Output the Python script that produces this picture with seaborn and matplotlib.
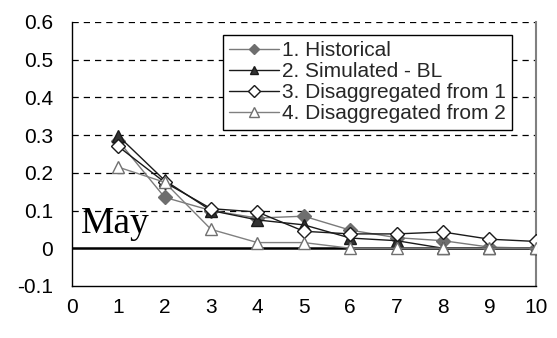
import matplotlib
matplotlib.use("Agg")
import matplotlib.pyplot as plt
import seaborn as sns
import pandas as pd

months = [1, 2, 3, 4, 5, 6, 7, 8, 9, 10]
historical = [0.285, 0.135, 0.100, 0.080, 0.085, 0.048, 0.028, 0.020, 0.003, 0.0]
simulated_bl = [0.298, 0.180, 0.100, 0.075, 0.062, 0.027, 0.020, 0.0, 0.0, 0.0]
disagg_from_1 = [0.270, 0.175, 0.105, 0.096, 0.045, 0.038, 0.038, 0.043, 0.024, 0.018]
disagg_from_2 = [0.215, 0.175, 0.050, 0.015, 0.015, 0.0, 0.0, 0.0, 0.0, 0.0]

labels = ["1. Historical", "2. Simulated - BL",
          "3. Disaggregated from 1", "4. Disaggregated from 2"]
x_ticks = [0, 1, 2, 3, 4, 5, 6, 7, 8, 9, 10]
y_ticks = [-0.1, 0, 0.1, 0.2, 0.3, 0.4, 0.5, 0.6]
y_tick_labels = ["-0.1", "0", "0.1", "0.2", "0.3", "0.4", "0.5", "0.6"]

sns.set_theme(style="white")
plt.rcParams["font.family"] = ["Liberation Sans", "DejaVu Sans"]

fig = plt.figure(figsize=(5.57, 3.38), dpi=100)
ax = fig.add_axes([0.129, 0.154, 0.833, 0.781])

styles = [
    dict(color="#7a7a7a", marker="D", markerfacecolor="#6e6e6e", markeredgecolor="#6e6e6e", markersize=7),
    dict(color="#1a1a1a", marker="^", markerfacecolor="#333333", markeredgecolor="#1a1a1a", markersize=8),
    dict(color="#1a1a1a", marker="D", markerfacecolor="white", markeredgecolor="#1a1a1a", markersize=7.5),
    dict(color="#808080", marker="^", markerfacecolor="white", markeredgecolor="#707070", markersize=9),
]
series = [historical, simulated_bl, disagg_from_1, disagg_from_2]

# grid and reference lines first
for yv in [0.1, 0.2, 0.3, 0.4, 0.5, 0.6]:
    ax.axhline(yv, color="black", linestyle=(0, (5, 4)), linewidth=0.9, zorder=1)
ax.axhline(0, color="black", linewidth=1.8, zorder=1)

for vals, lab, st in zip(series, labels, styles):
    df = pd.DataFrame({"month": months, "value": vals})
    sns.lineplot(data=df, x="month", y="value", ax=ax, label=lab,
                 linewidth=1.0, markeredgewidth=1.0, zorder=3, **st)

ax.set_xlim(0, 10)
ax.set_ylim(-0.1, 0.6)
ax.set_xticks(x_ticks)
ax.set_xticklabels([str(t) for t in x_ticks], fontsize=15)
ax.set_yticks(y_ticks)
ax.set_yticklabels(y_tick_labels, fontsize=15)
ax.set_xlabel("")
ax.set_ylabel("")
ax.tick_params(axis="x", direction="out", length=4.5, width=1, colors="black", pad=4)
ax.tick_params(axis="y", direction="out", length=4.5, width=1, colors="black", pad=9)

for side in ["left", "bottom"]:
    ax.spines[side].set_color("black")
    ax.spines[side].set_linewidth(1.0)
ax.spines["top"].set_visible(False)
ax.spines["right"].set_color("#808080")
ax.spines["right"].set_linewidth(1.5)

ax.text(0.19, 0.04, "May", fontsize=27, family=["Liberation Serif", "DejaVu Serif"],
        color="black", ha="left", va="baseline", zorder=2)

leg = ax.legend(loc="upper left", bbox_to_anchor=(0.325, 0.951), borderaxespad=0,
                fontsize=15, frameon=True, fancybox=False, edgecolor="black",
                framealpha=1, handlelength=2.4, handletextpad=0.15,
                labelspacing=0.1, borderpad=0.3, markerscale=0.75)
leg.get_frame().set_linewidth(1.0)

fig.savefig("out.png", dpi=100, facecolor="white")
